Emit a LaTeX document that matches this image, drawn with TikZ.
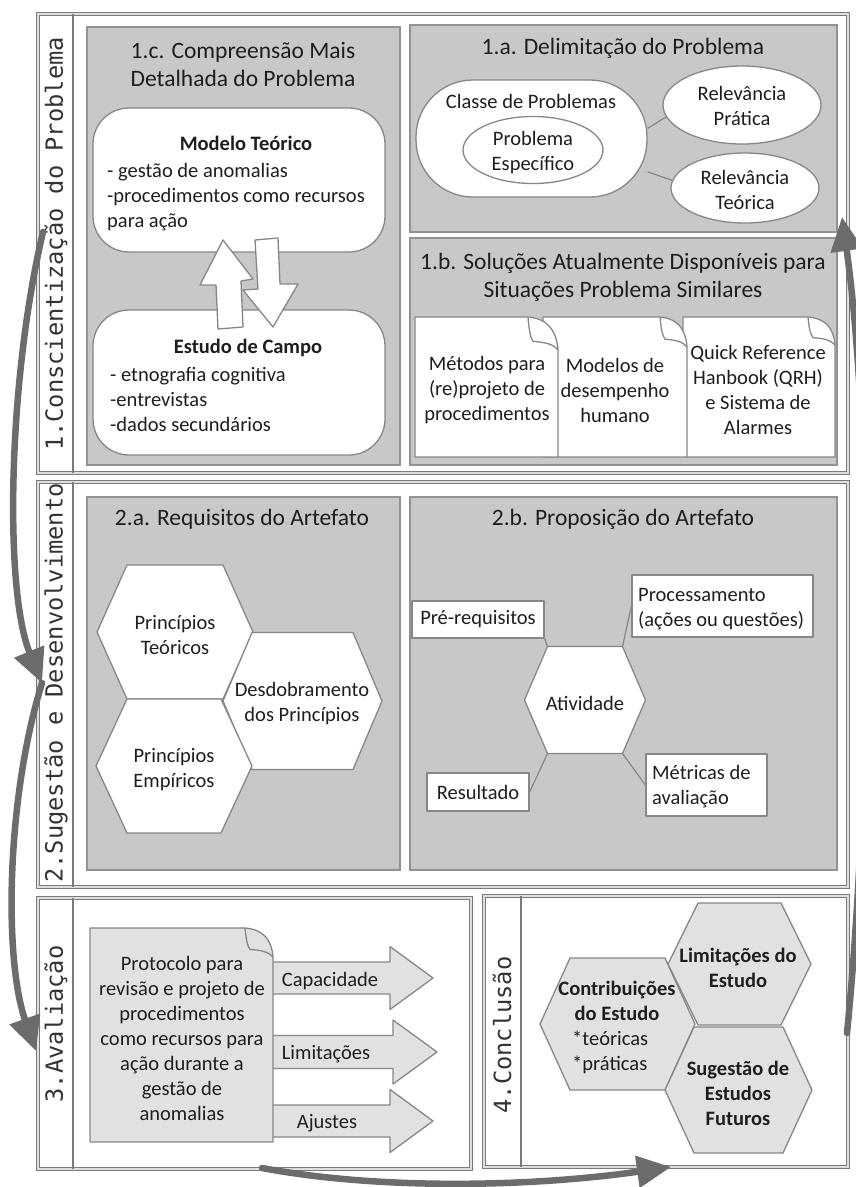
\documentclass[tikz,border=0pt]{standalone}
\usepackage{fontspec}
\setmainfont{Carlito}
\newfontfamily\lblmono{DejaVu Sans Mono}
\usetikzlibrary{arrows.meta,shapes.geometric}

\definecolor{framegray}{HTML}{7A7A7A}
\definecolor{panelfill}{HTML}{C8C8C8}
\definecolor{paneledge}{HTML}{929292}
\definecolor{shapeedge}{HTML}{878787}
\definecolor{lightfill}{HTML}{E1E1E1}
\definecolor{flowgray}{HTML}{6C6C6C}
\definecolor{ink}{HTML}{1E1E1E}
\definecolor{labelink}{HTML}{333333}

% hexagon with pointed left/right ends: name, style, cx, cy, half width, half height, inset
\newcommand\hexagon[7]{%
  \path (#3-#5,#4) coordinate (#1-l)
        (#3-#5+#7,#4-#6) coordinate (#1-tl)
        (#3+#5-#7,#4-#6) coordinate (#1-tr)
        (#3+#5,#4) coordinate (#1-r)
        (#3+#5-#7,#4+#6) coordinate (#1-br)
        (#3-#5+#7,#4+#6) coordinate (#1-bl);
  \draw[#2] (#1-l) -- (#1-tl) -- (#1-tr) -- (#1-r) -- (#1-br) -- (#1-bl) -- cycle;}

% sheet with a folded top-right corner: style, x1, y1, x2, y2, fold width, fold height
\newcommand\foldeddoc[7]{%
  \draw[#1] (#2,#3) -- (#4-#6,#3)
     .. controls (#4-0.35*#6,#3+0.05*#7) and (#4-0.05*#6,#3+0.4*#7) .. (#4,#3+#7)
     -- (#4,#5) -- (#2,#5) -- cycle;
  \draw[#1] (#4-#6,#3)
     .. controls (#4-#6+1,#3+0.35*#7) and (#4-#6+2,#3+0.6*#7) .. (#4-#6+5,#3+0.74*#7)
     .. controls (#4-0.45*#6,#3+0.76*#7) and (#4-0.15*#6,#3+0.82*#7) .. (#4,#3+#7);}

% horizontal block arrow: style, x start, head base x, tip x, centre y, half shaft, half head
\newcommand\blockarrow[7]{%
  \draw[#1] (#2,#5-#6) -- (#3,#5-#6) -- (#3,#5-#7) -- (#4,#5) -- (#3,#5+#7)
     -- (#3,#5+#6) -- (#2,#5+#6) -- cycle;}

\begin{document}
\begin{tikzpicture}[x=1pt,y=-1pt,
  frame/.style={draw=framegray, line width=1.1pt, double=white!75!framegray, double distance=1.1pt},
  divider/.style={draw=framegray, line width=1.6pt},
  panel/.style={fill=panelfill, draw=paneledge, line width=2pt},
  wshape/.style={draw=shapeedge, fill=white, line width=1.3pt, line join=round},
  gshape/.style={draw=shapeedge, fill=lightfill, line width=1.3pt, line join=round},
  conn/.style={draw=shapeedge, line width=1.2pt},
  txt/.style={text=ink, inner sep=0pt, font=\fontsize{20.5}{25}\selectfont},
  txtb/.style={text=ink, inner sep=0pt, font=\fontsize{20.5}{25}\selectfont\bfseries},
  ttl/.style={text=ink, inner sep=0pt, font=\fontsize{23.5}{28}\selectfont},
  seclabel/.style={text=labelink, inner sep=0pt, rotate=90, font=\lblmono\fontsize{23.7}{28}\selectfont},
  flow/.style={draw=flowgray, line width=6.5pt, line cap=round,
    -{Triangle[length=34pt,width=31pt]}}
]
\useasboundingbox (0,0) rectangle (856,1187);
\clip (0,0) rectangle (856,1187);
\fill[white] (0,0) rectangle (856,1187);

% ---------- section frames ----------
\draw[frame] (38,14) rectangle (848,473);
\draw[divider] (73,14) -- (73,473);
\draw[frame] (38,482) rectangle (848,887);
\draw[divider] (73,482) -- (73,887);
\draw[frame] (38,898) rectangle (471,1169);
\draw[divider] (73,898) -- (73,1169);
\draw[frame] (484,896) rectangle (848,1167);
\draw[divider] (521,896) -- (521,1167);

\node[seclabel] (lab1) at (56,244) {1.Conscientização do Problema};
\node[seclabel] (lab2) at (56,683) {2.Sugestão e Desenvolvimento};
\node[seclabel] (lab3) at (56,1024) {3.Avaliação};
\node[seclabel] (lab4) at (502,1035) {4.Conclusão};

% ---------- panels ----------
\draw[panel] (87,27) rectangle (400,465);
\draw[panel] (410,25) rectangle (837,232);
\draw[panel] (410,238) rectangle (837,465);
\draw[panel] (87,497) rectangle (400,870);
\draw[panel] (410,497) rectangle (837,870);

% ---------- 1.c ----------
\node[ttl, align=center] (t1c) at (243,64) {1.c. Compreensão Mais\\Detalhada do Problema};
\node[wshape, rounded corners=36pt, minimum width=292pt, minimum height=144pt, inner sep=0pt] (modelo) at (239,180) {};
\node[wshape, rounded corners=36pt, minimum width=292pt, minimum height=145pt, inner sep=0pt] (campo) at (239,382.5) {};
\draw[wshape] (223,240) -- (253,279) -- (241,281) -- (243,327) -- (218,329) -- (216,285) -- (200,285) -- cycle;
\draw[wshape] (255,240) -- (278,238) -- (280,284) -- (298,284) -- (273,327) -- (243,290) -- (258,289) -- cycle;
\node[txtb] (modelo-h) at (246,143) {Modelo Teórico};
\node[txt, align=left, anchor=west] (modelo-b) at (107,197) {- gestão de anomalias\\-procedimentos como recursos\\para ação};
\node[txtb] (campo-h) at (248,348) {Estudo de Campo};
\node[txt, align=left, anchor=west] (campo-b) at (110,399) {- etnografia cognitiva\\-entrevistas\\-dados secundários};

% ---------- 1.a ----------
\node[ttl] (t1a) at (623,48) {1.a. Delimitação do Problema};
\node[wshape, rounded corners=57pt, minimum width=231pt, minimum height=117pt, inner sep=0pt] (classe) at (531.5,138.5) {};
\node[wshape, ellipse, minimum width=140pt, minimum height=67pt, inner sep=0pt] (espec) at (533,150) {};
\node[wshape, ellipse, minimum width=158pt, minimum height=78pt, inner sep=0pt] (pratica) at (742,105) {};
\node[wshape, ellipse, minimum width=148pt, minimum height=70pt, inner sep=0pt] (teorica) at (745,188) {};
\draw[conn] (classe.5) -- (pratica.189);
\draw[conn] (classe.-16) -- (teorica.174);
\node[txt] (classe-t) at (531,101) {Classe de Problemas};
\node[txt, align=center] (espec-t) at (533,153) {Problema\\Específico};
\node[txt, align=center] (pratica-t) at (742,106) {Relevância\\Prática};
\node[txt, align=center] (teorica-t) at (745,190) {Relevância\\Teórica};

% ---------- 1.b ----------
\node[ttl, align=center] (t1b) at (623,277) {1.b. Soluções Atualmente Disponíveis para\\Situações Problema Similares};
\foldeddoc{wshape}{683}{317}{835}{457}{27}{28}
\foldeddoc{wshape}{543}{317}{687}{457}{27}{30}
\foldeddoc{wshape}{415}{317}{558}{457}{30}{33}
\node[txt, align=center] (doc1-t) at (487,390) {Métodos para\\(re)projeto de\\procedimentos};
\node[txt, align=center] (doc2-t) at (615,390) {Modelos de\\desempenho\\humano};
\node[txt, align=center] (doc3-t) at (758,390) {Quick Reference\\Hanbook (QRH)\\e Sistema de\\Alarmes};

% ---------- 2.a ----------
\node[ttl] (t2a) at (242,519) {2.a. Requisitos do Artefato};
\hexagon{hexT}{wshape}{175}{632}{78}{67}{30}
\hexagon{hexD}{wshape}{302.5}{701}{79.5}{68.5}{29}
\hexagon{hexE}{wshape}{174}{766}{78}{67}{31}
\node[txt, align=center] (hexT-t) at (175,635) {Princípios\\Teóricos};
\node[txt, align=center] (hexD-t) at (302,704) {Desdobramento\\dos Princípios};
\node[txt, align=center] (hexE-t) at (174,770) {Princípios\\Empíricos};

% ---------- 2.b ----------
\node[ttl] (t2b) at (623,519) {2.b. Proposição do Artefato};
\hexagon{act}{wshape}{585}{700}{60.5}{53.5}{23}
\node[wshape, minimum width=132pt, minimum height=37pt, inner sep=0pt, txt] (pre) at (478,619.5) {Pré-requisitos};
\node[wshape, minimum width=181pt, minimum height=62pt, inner sep=0pt] (proc) at (722.5,606) {};
\node[wshape, minimum width=102pt, minimum height=38pt, inner sep=0pt, txt] (res) at (478,792) {Resultado};
\node[wshape, minimum width=121pt, minimum height=62pt, inner sep=0pt] (met) at (706.5,785) {};
\draw[conn] (pre.south east) -- (act-tl);
\draw[conn] (proc.west) -- (act-tr);
\draw[conn] (res.east) -- (act-bl);
\draw[conn] (met.west) -- (act-br);
\node[txt] (act-t) at (585,703) {Atividade};
\node[txt, align=left, anchor=west] (proc-t) at (638,609) {Processamento\\(ações ou questões)};
\node[txt, align=left, anchor=west] (met-t) at (652,787) {Métricas de\\avaliação};

% ---------- 3 ----------
\blockarrow{gshape}{265}{390}{433}{978}{16}{31.5}
\blockarrow{gshape}{265}{393}{437}{1052}{16.5}{32}
\blockarrow{gshape}{265}{390}{433}{1121}{16}{31.5}
\foldeddoc{gshape}{90}{928}{273}{1142}{28}{29}
\node[txt, align=center] (proto-t) at (182,1038) {Protocolo para\\revisão e projeto de\\procedimentos\\como recursos para\\ação durante a\\gestão de\\anomalias};
\node[txt] (cap-t) at (330,981) {Capacidade};
\node[txt] (lim-t) at (326,1054) {Limitações};
\node[txt] (aj-t) at (327,1123) {Ajustes};

% ---------- 4 ----------
\hexagon{contrib}{gshape}{617.5}{1024}{77.5}{66}{30}
\hexagon{limit}{gshape}{739.5}{964}{71.5}{61}{30}
\hexagon{sugest}{gshape}{738.5}{1090}{73.5}{63}{29}
\node[txtb, align=center] (contrib-h) at (617,1001) {Contribuições\\do Estudo};
\node[txt, align=left, anchor=west] (contrib-b) at (572,1052) {*teóricas\\*práticas};
\node[txtb, align=center] (limit-t) at (738,968) {Limitações do\\Estudo};
\node[txtb, align=center] (sugest-t) at (738,1093) {Sugestão de\\Estudos\\Futuros};

% ---------- flow between phases ----------
\coordinate (f1a) at (43,232);
\coordinate (f1b) at (42,683);
\coordinate (f2b) at (36,1051);
\coordinate (f3a) at (262,1168);
\coordinate (f3b) at (671,1167);
\coordinate (f4a) at (847,1033);
\coordinate (f4b) at (842,217);
\draw[flow] (f1a) .. controls (8,380) and (4,590) .. (f1b);
\draw[flow] (f1b) .. controls (6,800) and (4,960) .. (f2b);
\draw[flow] (f3a) .. controls (380,1190) and (530,1187) .. (f3b);
\draw[flow] (f4a) .. controls (872,780) and (872,430) .. (f4b);
\end{tikzpicture}
\end{document}
